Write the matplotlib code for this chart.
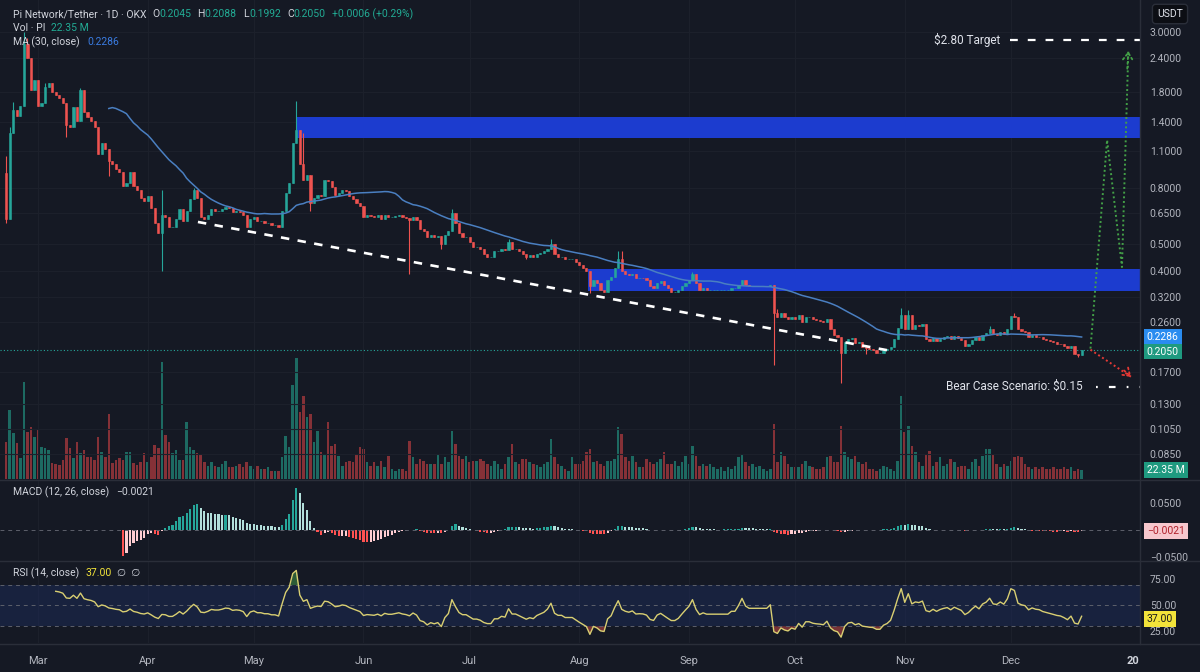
import numpy as np
import matplotlib
matplotlib.use("Agg")
import matplotlib.pyplot as plt
from matplotlib.ticker import FixedLocator, NullLocator, FuncFormatter
from matplotlib.transforms import blended_transform_factory
from matplotlib.lines import Line2D

plt.rcParams['font.family'] = ['Roboto', 'DejaVu Sans']

# ---------------- data: PI/USDT daily, OKX (day 0 = Feb 20) ----------------
first_open = 0.91
closes = [
    0.62, 1.28, 1.55, 1.47, 1.60, 2.70, 2.40, 1.84, 2.00, 1.60,
    1.65, 1.89, 1.95, 1.80, 1.76, 1.72, 1.65, 1.37, 1.35, 1.59,
    1.42, 1.84, 1.52, 1.46, 1.42, 1.34, 1.07, 1.17, 1.12, 1.01,
    0.98, 0.94, 0.92, 0.82, 0.84, 0.92, 0.82, 0.79, 0.74, 0.72,
    0.75, 0.68, 0.60, 0.55, 0.64, 0.63, 0.58, 0.58, 0.62, 0.67,
    0.61, 0.66, 0.73, 0.79, 0.74, 0.63, 0.62, 0.64, 0.67, 0.66,
    0.66, 0.67, 0.685, 0.68, 0.655, 0.66, 0.655, 0.64, 0.58, 0.62,
    0.63, 0.61, 0.61, 0.60, 0.60, 0.59, 0.59, 0.58, 0.66, 0.77,
    0.84, 1.17, 1.31, 0.98, 0.86, 0.90, 0.71, 0.74, 0.76, 0.75,
    0.86, 0.85, 0.81, 0.76, 0.77, 0.79, 0.78, 0.75, 0.73, 0.71,
    0.69, 0.63, 0.64, 0.635, 0.63, 0.64, 0.62, 0.64, 0.63, 0.63,
    0.635, 0.64, 0.63, 0.625, 0.615, 0.63, 0.615, 0.57, 0.56, 0.53,
    0.54, 0.53, 0.535, 0.50, 0.54, 0.56, 0.65, 0.60, 0.55, 0.53,
    0.53, 0.51, 0.49, 0.49, 0.48, 0.46, 0.45, 0.45, 0.47, 0.47,
    0.48, 0.475, 0.51, 0.48, 0.48, 0.47, 0.46, 0.45, 0.455, 0.45,
    0.46, 0.465, 0.47, 0.48, 0.50, 0.46, 0.45, 0.45, 0.44, 0.44,
    0.44, 0.43, 0.42, 0.41, 0.40, 0.35, 0.37, 0.36, 0.34, 0.335,
    0.37, 0.38, 0.41, 0.44, 0.40, 0.39, 0.385, 0.39, 0.375, 0.376,
    0.375, 0.37, 0.35, 0.345, 0.36, 0.365, 0.355, 0.345, 0.335, 0.335,
    0.34, 0.35, 0.36, 0.37, 0.39, 0.36, 0.34, 0.345, 0.34, 0.34,
    0.34, 0.34, 0.34, 0.34, 0.34, 0.345, 0.345, 0.355, 0.37, 0.355,
    0.35, 0.35, 0.35, 0.35, 0.35, 0.35, 0.355, 0.28, 0.27, 0.28,
    0.27, 0.265, 0.27, 0.265, 0.275, 0.26, 0.27, 0.27, 0.265, 0.263,
    0.262, 0.26, 0.265, 0.244, 0.233, 0.228, 0.20, 0.218, 0.225, 0.226,
    0.217, 0.219, 0.21, 0.208, 0.206, 0.205, 0.199, 0.199, 0.204, 0.206,
    0.21, 0.224, 0.246, 0.275, 0.245, 0.275, 0.245, 0.252, 0.25, 0.255,
    0.224, 0.22, 0.227, 0.22, 0.225, 0.228, 0.23, 0.224, 0.23, 0.226,
    0.222, 0.211, 0.215, 0.222, 0.228, 0.222, 0.232, 0.236, 0.245, 0.234,
    0.233, 0.238, 0.234, 0.245, 0.273, 0.27, 0.244, 0.24, 0.238, 0.228,
    0.232, 0.229, 0.228, 0.224, 0.222, 0.22, 0.218, 0.216, 0.215, 0.212,
    0.208, 0.212, 0.198, 0.196, 0.205,
]
# visible wick extremes (others are hidden inside the bodies at this scale)
wick_high = {0: 1.05, 1: 1.35, 2: 1.66, 5: 2.99, 6: 2.85, 11: 1.95, 16: 1.72,
             21: 1.87, 44: 0.79, 53: 0.80, 82: 1.67, 83: 1.31, 84: 1.28,
             126: 0.67, 142: 0.52, 154: 0.52, 173: 0.47, 174: 0.47,
             194: 0.395, 218: 0.29, 253: 0.292, 255: 0.287, 278: 0.25, 285: 0.28}
wick_low = {0: 0.60, 17: 1.24, 29: 0.89, 44: 0.40, 86: 0.66, 114: 0.39,
            123: 0.48, 147: 0.44, 165: 0.33, 217: 0.18, 236: 0.155,
            243: 0.197, 303: 0.192}
volume_m = [
    92, 172, 115, 90, 52, 240, 117, 130, 105, 122,
    80, 77, 72, 40, 37, 35, 47, 102, 77, 52,
    92, 65, 72, 55, 55, 47, 105, 67, 55, 160,
    40, 47, 52, 47, 67, 67, 40, 35, 42, 65,
    42, 55, 85, 77, 290, 110, 92, 65, 72, 47,
    47, 142, 80, 72, 65,
    62, 42, 32, 42, 32, 30, 37, 45, 30, 30,
    32, 37, 30, 42, 32, 25, 32, 25, 25, 30,
    20, 20, 20, 55, 107, 80, 232, 300, 167, 205,
    155, 162, 92, 120, 67, 62, 142, 82, 87, 57,
    32, 42, 45, 42, 62, 80, 75, 42, 32, 42,
    32, 45, 30, 57,
    25, 20, 25, 25, 20, 95, 55, 37, 50, 45,
    37, 37, 37, 62, 37, 55, 42, 120, 87, 57,
    50, 57, 42, 45, 45, 50, 45, 37, 32, 45,
    37, 25, 37, 55, 87, 42, 37, 50, 50, 42,
    37, 35, 30, 37, 42, 100, 55, 37, 32, 25, 20,
    55, 37, 37, 45, 67, 75, 42, 45, 37, 32,
    45, 45, 50, 130, 112, 55, 45, 57, 42, 30,
    30, 50, 42, 37, 42, 50, 67, 37, 37, 45,
    32, 42, 57, 37, 82, 57, 32, 37, 32, 37,
    30, 25, 30, 20, 30, 25, 32, 55, 62, 42,
    32, 37, 30, 32, 25, 20,
    25, 137, 42, 67, 57, 37, 30, 30, 30, 37,
    45, 32, 30, 25, 25, 30, 55, 57, 42, 42,
    132, 67, 55, 50, 57, 42, 37, 42, 25, 25,
    20, 25, 32, 30, 25, 20, 45, 205, 117, 132,
    82, 67, 42, 32, 62, 70, 32, 42, 55, 32,
    37, 50, 42, 30, 32, 32, 25, 42, 50, 32,
    57, 75, 75, 62, 37, 30, 37, 32, 45, 55,
    57, 55, 37, 30, 25, 30, 25, 30, 25, 25,
    30, 25, 25, 30, 25, 30, 20, 25, 22.35,
]

month_days = [9, 40, 70, 101, 131, 162, 193, 223, 254, 284, 318.5]
month_labels = ["Mar", "Apr", "May", "Jun", "Jul", "Aug", "Sep", "Oct", "Nov", "Dec", "20"]
price_ticks = [3.0, 2.4, 1.8, 1.4, 1.1, 0.8, 0.65, 0.5, 0.4, 0.32, 0.26, 0.17, 0.13, 0.105, 0.085]

zone_start = [81.9, 164.5]
zone_low = [1.226, 0.336]
zone_high = [1.463, 0.407]
trend_days = [54.2, 250.6]
trend_prices = [0.603, 0.2024]
bull_days = [306.5, 311.2, 315.4, 317.2]
bull_prices = [0.207, 1.205, 0.412, 2.55]
bear_days = [306.5, 318.0]
bear_prices = [0.205, 0.163]
target_price = 2.80
bear_price = 0.15

# ---------------- styling ----------------
BG = "#151924"
GRID = "#1c202b"
TXT = "#b2b5be"
UP = "#26a69a"
DOWN = "#ef5350"
X0, X1 = -1.75, 320.5

c = np.array(closes)
assert len(c) == len(volume_m)
days = np.arange(len(c))
o = np.r_[first_open, c[:-1]]
hi = np.maximum(o, c)
lo = np.minimum(o, c)
for k, v in wick_high.items():
    hi[k] = v
for k, v in wick_low.items():
    lo[k] = v
up = c >= o
cols = np.where(up, UP, DOWN)


def ema(x, n):
    out = np.full(len(x), np.nan)
    first = np.where(~np.isnan(x))[0][0]
    out[first + n - 1] = np.mean(x[first:first + n])
    a = 2.0 / (n + 1)
    for i in range(first + n, len(x)):
        out[i] = a * x[i] + (1 - a) * out[i - 1]
    return out


ma30 = np.full(len(c), np.nan)
for i in range(29, len(c)):
    ma30[i] = c[i - 29:i + 1].mean()

macd = ema(c, 12) - ema(c, 26)
signal = ema(macd, 9)
hist = macd - signal

delta = np.diff(c)
gain = np.clip(delta, 0, None)
loss = np.clip(-delta, 0, None)
rsi = np.full(len(c), np.nan)
ag, al = gain[:14].mean(), loss[:14].mean()
rsi[14] = 100 - 100 / (1 + ag / al)
for i in range(15, len(c)):
    ag = (ag * 13 + gain[i - 1]) / 14
    al = (al * 13 + loss[i - 1]) / 14
    rsi[i] = 100 - 100 / (1 + ag / al) if al > 0 else 100

# ---------------- figure ----------------
W, H = 1200, 672
fig = plt.figure(figsize=(12, 6.72), dpi=100, facecolor=BG)


def rect(top, bottom):
    return [0, 1 - bottom / H, 1140 / W, (bottom - top) / H]


axv = fig.add_axes(rect(0, 479))
ax = fig.add_axes(rect(0, 479))
axm = fig.add_axes(rect(481, 560))
axr = fig.add_axes(rect(562, 643))

for a in (axv, axm, axr):
    a.set_facecolor(BG)
ax.set_facecolor("none")
for a in (axv, ax, axm, axr):
    a.set_xlim(X0, X1)
    for s in a.spines.values():
        s.set_visible(False)
    a.set_xticks(month_days[:-1])
    a.tick_params(axis="x", length=0, labelbottom=False)
    a.grid(True, axis="x", color=GRID, lw=0.8)
    a.set_axisbelow(True)

# volume (behind candles)
axv.set_ylim(0, 479 * 2.48)
axv.set_yticks([])
vcols = np.where(up, "#1d6a62", "#853137")
axv.bar(days, volume_m, width=0.72, color=vcols, lw=0)

# price pane
ax.set_yscale("log")
ax.set_ylim(0.0688, 3.93)
ax.yaxis.tick_right()
ax.yaxis.set_major_locator(FixedLocator(price_ticks))
ax.yaxis.set_minor_locator(NullLocator())
ax.yaxis.set_major_formatter(FuncFormatter(lambda v, p: f"{v:.4f}"))
ax.tick_params(axis="y", length=0, pad=7, labelsize=7.5, labelcolor=TXT)
ax.grid(True, axis="y", color=GRID, lw=0.8)

for s, l, h_ in zip(zone_start, zone_low, zone_high):
    ax.fill_between([s, X1], l, h_, color="#1c3ccf", lw=0, zorder=2)

ax.vlines(days, lo, hi, colors=cols, lw=0.8, zorder=3)
ax.bar(days, np.maximum(np.abs(c - o), 1e-4), bottom=np.minimum(o, c),
       width=0.62, color=cols, edgecolor=cols, lw=0.4, zorder=3)
ax.plot(days, ma30, color="#4a7fc1", lw=1.1, zorder=4)
ax.axhline(c[-1], color=UP, lw=0.8, ls=(0, (1, 2)), zorder=2.5)

ax.plot(trend_days, trend_prices, color="white", lw=1.9, ls=(0, (3.2, 3.2)), zorder=5)

ax.plot(bull_days, bull_prices, color="#43a047", lw=1.4, ls=(0, (1, 1.4)), zorder=5)
ax.annotate("", xy=(bull_days[-1], bull_prices[-1]), xytext=(bull_days[-1] - 0.3, 2.2),
            arrowprops=dict(arrowstyle="->,head_length=0.5,head_width=0.35",
                            color="#43a047", lw=1.3, ls=":", shrinkA=0, shrinkB=0), zorder=5)
ax.plot(bear_days, bear_prices, color="#e53935", lw=1.4, ls=(0, (1, 1.4)), zorder=5)
ax.annotate("", xy=(bear_days[-1], bear_prices[-1]), xytext=(bear_days[-1] - 2.0, 0.172),
            arrowprops=dict(arrowstyle="->,head_length=0.5,head_width=0.35",
                            color="#e53935", lw=1.3, ls=":", shrinkA=0, shrinkB=0), zorder=5)

ax.plot([283.7, X1], [target_price] * 2, color="white", lw=1.6, ls=(0, (3.5, 4.5)), zorder=5)
ax.text(280.9, target_price, "$2.80 Target", color="#e0e3eb", fontsize=8.5,
        ha="right", va="center", zorder=6)
ax.plot([308.0, X1], [bear_price] * 2, color="white", lw=1.6, ls=(0, (0.8, 5, 3, 5)), zorder=5)
ax.text(304.4, bear_price, "Bear Case Scenario: $0.15", color="#e0e3eb", fontsize=8.5,
        ha="right", va="center", zorder=6)

tr = blended_transform_factory(ax.transAxes, ax.transData)
ax.text(1.006, 0.2286, "0.2286", transform=tr, color="white", fontsize=7.5, va="center",
        bbox=dict(boxstyle="square,pad=0.28", fc="#2a8cf0", ec="none"))
ax.text(1.006, c[-1] * 0.985, "0.2050", transform=tr, color="white", fontsize=7.5, va="center",
        bbox=dict(boxstyle="square,pad=0.28", fc="#1f9a80", ec="none"))
trv = blended_transform_factory(axv.transAxes, axv.transData)
axv.text(1.006, 22.35, "22.35 M", transform=trv, color="white", fontsize=7.5, va="center",
         bbox=dict(boxstyle="square,pad=0.28", fc="#1f9a80", ec="none"))

# MACD pane
mcols = []
for i in range(len(hist)):
    h_ = hist[i]
    prev = hist[i - 1] if i > 0 else np.nan
    if h_ >= 0:
        mcols.append(UP if (np.isnan(prev) or h_ > prev) else "#b2dfdb")
    else:
        mcols.append("#ffcdd2" if (not np.isnan(prev) and h_ > prev) else "#ff5252")
axm.bar(days, np.nan_to_num(hist), width=0.6, color=mcols, lw=0)
axm.set_ylim(-0.0556, 0.0907)
axm.axhline(0, color="#5d606b", lw=0.7, ls=(0, (4, 4)))
axm.yaxis.tick_right()
axm.set_yticks([0.05, -0.05])
axm.set_yticklabels(["0.0500", "\u22120.0500"])
axm.tick_params(axis="y", length=0, pad=7, labelsize=7.5, labelcolor=TXT)
trm = blended_transform_factory(axm.transAxes, axm.transData)
axm.text(1.006, -0.0021, "\u22120.0021", transform=trm, color="#b0202a", fontsize=7.5,
         va="center", bbox=dict(boxstyle="square,pad=0.28", fc="#f7c7cd", ec="none"))

# RSI pane
axr.set_ylim(13.9, 91.7)
axr.axhspan(30, 70, color="#1c2a55", alpha=0.55, lw=0)
for lvl in (70, 50, 30):
    axr.axhline(lvl, color="#5d606b", lw=0.7, ls=(0, (4, 4)))
axr.plot(days, rsi, color="#d9cf72", lw=1.0)
axr.fill_between(days, rsi, 70, where=rsi > 70, color="#4caf50", alpha=0.45, lw=0, interpolate=True)
axr.fill_between(days, rsi, 30, where=rsi < 30, color="#ef5350", alpha=0.45, lw=0, interpolate=True)
axr.yaxis.tick_right()
axr.set_yticks([75, 50, 25])
axr.set_yticklabels(["75.00", "50.00", "25.00"])
axr.tick_params(axis="y", length=0, pad=7, labelsize=7.5, labelcolor=TXT)
trr = blended_transform_factory(axr.transAxes, axr.transData)
axr.text(1.006, 37, "37.00", transform=trr, color="#1a1a1a", fontsize=7.5, va="center",
         bbox=dict(boxstyle="square,pad=0.28", fc="#f2e33a", ec="none"))
axr.set_xticks(month_days)
axr.set_xticklabels(month_labels)
axr.tick_params(axis="x", labelbottom=True, labelsize=8, labelcolor=TXT, pad=9)
axr.get_xticklabels()[-1].set_fontweight("bold")
axr.get_xticklabels()[-1].set_color("#d1d4dc")
axr.grid(True, axis="x", color=GRID, lw=0.8)
axr.xaxis.get_gridlines()[-1].set_visible(False)

# pane separators
for yy in (480, 561, 644):
    fig.add_artist(Line2D([0, 1], [1 - yy / H] * 2, color="#2a2e39", lw=1))
fig.add_artist(Line2D([1140 / W] * 2, [1 - 644 / H, 1], color="#2a2e39", lw=1))

# header texts


def ftext(x, y, s, color, **kw):
    fig.text(x / W, 1 - y / H, s, color=color, fontsize=7.5, ha="left", va="center", **kw)


LBL = "#d1d4dc"
GRN = "#22ab94"
ftext(13, 14, "Pi Network/Tether \u00b7 1D \u00b7 OKX", LBL)
ftext(152, 14, "O", LBL)
ftext(159, 14, "0.2045", GRN)
ftext(197, 14, "H", LBL)
ftext(204, 14, "0.2088", GRN)
ftext(243, 14, "L", LBL)
ftext(249, 14, "0.1992", GRN)
ftext(287, 14, "C", LBL)
ftext(293, 14, "0.2050", GRN)
ftext(332, 14, "+0.0006 (+0.29%)", GRN)
ftext(13, 28, "Vol \u00b7 PI", LBL)
ftext(51, 28, "22.35 M", GRN)
ftext(13, 42, "MA (30, close)", LBL)
ftext(87, 42, "0.2286", "#3a7be0")
ftext(13, 492, "MACD (12, 26, close)", LBL)
ftext(116, 492, "\u22120.0021", LBL)
ftext(13, 573, "RSI (14, close)", LBL)
ftext(85, 573, "37.00", "#f2e33a")
ftext(117, 573, "\u2205  \u2205", LBL)
fig.text(1170 / W, 1 - 14 / H, "USDT", color="#e0e3eb", fontsize=7.5, ha="center", va="center",
         bbox=dict(boxstyle="round,pad=0.45,rounding_size=0.3", fc="#0c0e14", ec="#2a2e39"))

fig.savefig("out.png", dpi=100, facecolor=BG)
